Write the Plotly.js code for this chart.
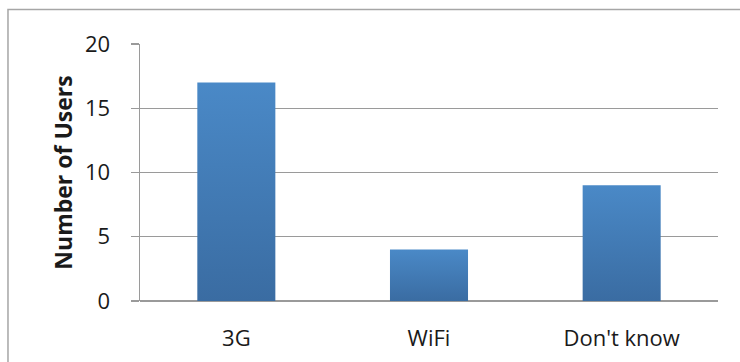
<!DOCTYPE html>
<html>
<head>
<meta charset="utf-8">
<script src="https://cdn.plot.ly/plotly-3.0.1.min.js"></script>
<style>
  html, body { margin: 0; padding: 0; background: #fff; }
  #chart { width: 740px; height: 362px; }
</style>
</head>
<body>
<div id="chart"></div>
<script>
// Connection type reported by users
const categories = ['3G', 'WiFi', "Don't know"];
const users = [17, 4, 9];
const yTicks = [0, 5, 10, 15, 20];

const FONT = '"Open Sans", "Liberation Sans", sans-serif';

const trace = {
  type: 'bar',
  x: categories,
  y: users,
  width: 0.405,
  marker: { color: '#4279b6', line: { width: 0 } },
  hoverinfo: 'x+y'
};

const layout = {
  width: 740,
  height: 362,
  margin: { l: 140, r: 22, t: 44, b: 61 },
  paper_bgcolor: '#ffffff',
  plot_bgcolor: '#ffffff',
  showlegend: false,
  font: { family: FONT, color: '#1a1a1a', size: 22 },
  xaxis: {
    type: 'category',
    showgrid: false,
    zeroline: false,
    showline: false,
    ticks: '',
    ticklabelstandoff: 22,
    tickfont: { family: FONT, size: 22, color: '#1a1a1a' }
  },
  yaxis: {
    range: [0, 20],
    tickvals: yTicks,
    ticktext: yTicks.map(String),
    showgrid: true,
    gridcolor: '#9a9a9a',
    gridwidth: 1.4,
    zeroline: true,
    zerolinecolor: '#9a9a9a',
    zerolinewidth: 1.4,
    showline: true,
    linecolor: '#9a9a9a',
    linewidth: 1.4,
    ticks: 'outside',
    ticklen: 8,
    tickcolor: '#9a9a9a',
    tickwidth: 1.4,
    ticklabelstandoff: 16,
    tickfont: { family: FONT, size: 22, color: '#1a1a1a' },
    title: {
      text: 'Number of Users',
      standoff: 6,
      font: { family: FONT, size: 23, color: '#1a1a1a', weight: 'bold' }
    }
  },
  shapes: [{
    type: 'rect',
    xref: 'paper', yref: 'paper',
    x0: -0.2284, x1: 1.2,
    y0: -0.4, y1: 1.134,
    line: { color: '#a6a6a6', width: 1.5 },
    fillcolor: 'rgba(0,0,0,0)',
    layer: 'below'
  }]
};

// Vertical shading on each bar: lighter at the top, darker at the base
function shadeBars(gd) {
  const svg = gd.querySelector('svg.main-svg');
  if (!svg) return;
  const defs = svg.querySelector('defs');
  if (!svg.querySelector('#barShade')) {
    const ns = 'http://www.w3.org/2000/svg';
    const grad = document.createElementNS(ns, 'linearGradient');
    grad.setAttribute('id', 'barShade');
    grad.setAttribute('x1', '0'); grad.setAttribute('y1', '0');
    grad.setAttribute('x2', '0'); grad.setAttribute('y2', '1');
    [['0', '#4a89c7'], ['1', '#3a6ca2']].forEach(([off, col]) => {
      const s = document.createElementNS(ns, 'stop');
      s.setAttribute('offset', off);
      s.setAttribute('stop-color', col);
      grad.appendChild(s);
    });
    defs.appendChild(grad);
  }
  gd.querySelectorAll('.barlayer .point path').forEach(p => {
    p.style.fill = 'url(#barShade)';
  });
}

const gd = document.getElementById('chart');
Plotly.newPlot(gd, [trace], layout, { staticPlot: true, displayModeBar: false })
  .then(() => shadeBars(gd));
</script>
</body>
</html>
